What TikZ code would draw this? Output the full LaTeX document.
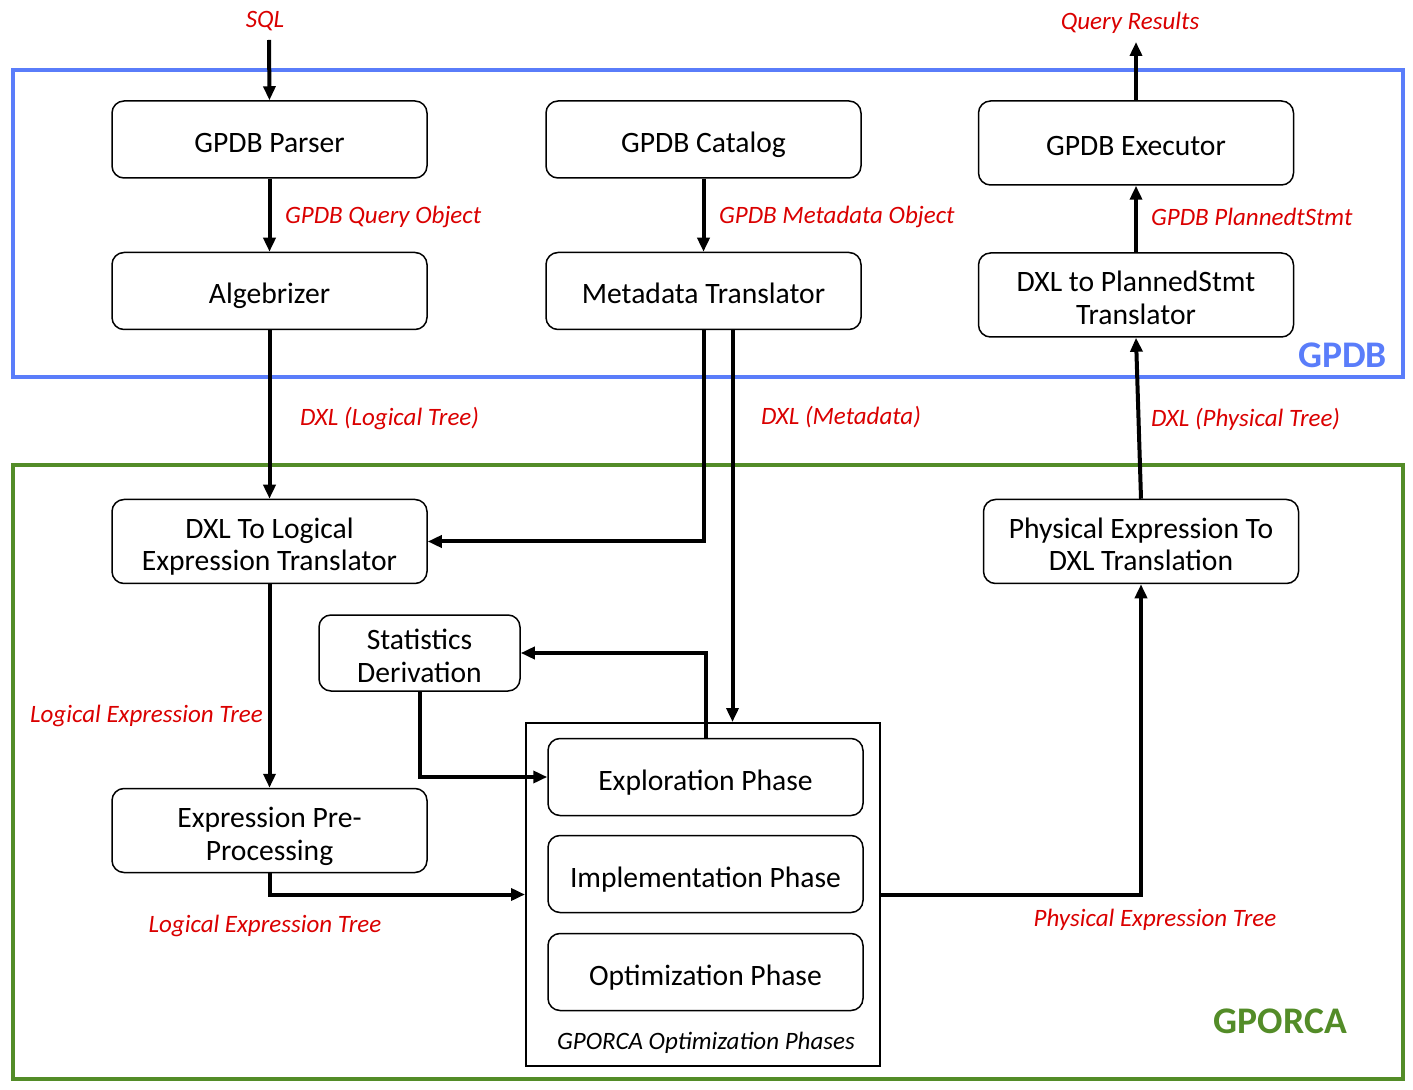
\documentclass[tikz,border=0pt]{standalone}
\usepackage{fontspec}
\setmainfont{Carlito}
\usetikzlibrary{
  positioning,
  arrows.meta,
  calc
}
\definecolor{gpdbblue}{RGB}{90,125,250}
\definecolor{orcagreen}{RGB}{83,140,40}
\definecolor{labelred}{RGB}{218,0,0}

\begin{document}
\begin{tikzpicture}[
      x=0.5pt, y=-0.5pt,
      box/.style={
        rectangle,
        rounded corners=6pt,
        draw=black,
        line width=0.75pt,
        minimum width=157.5pt,
        minimum height=38.5pt,
        inner sep=0pt,
        align=center,
        text height=13pt,
        text depth=0pt,
        font=\fontsize{14.8}{16.5}\selectfont
      },
      tallbox/.style={
        box,
        minimum height=42pt
      },
      twoline/.style={
        text height=29.5pt
      },
      frame/.style={
        line width=2pt
      },
      framelabel/.style={
        anchor=east,
        font=\fontsize{18.8}{22}\selectfont\bfseries
      },
      lbl/.style={
        text=labelred,
        font=\fontsize{12.5}{14}\selectfont\itshape
      },
      flow/.style={
        line width=2pt,
        -{Triangle[length=7pt,width=6pt]}
      }
    ]

    \useasboundingbox (0,0) rectangle (1413,1090);

    % Frames
    \draw[frame,gpdbblue] (13,70) rectangle (1403,377);
    \node[framelabel,text=gpdbblue] (gpdblabel) at (1394,355) {GPDB};
    \draw[frame,orcagreen] (13,465) rectangle (1403,1079);
    \node[framelabel,text=orcagreen] (orcalabel) at (1354,1021) {GPORCA};

    % GPDB side
    \node[box] (parser) at (269.5,139.5) {GPDB Parser};
    \node[box] (algebrizer) at (269.5,291) {Algebrizer};
    \node[box] (catalog) at (703.5,139.5) {GPDB Catalog};
    \node[box] (mdtrans) at (703.5,291) {Metadata Translator};
    \node[tallbox] (executor) at (1136,143) {GPDB Executor};
    \node[tallbox,twoline] (planned) at (1136,295) {DXL to PlannedStmt\\Translator};

    % GPORCA side
    \node[tallbox,twoline] (dxl2log) at (269.5,541.5) {DXL To Logical\\Expression Translator};
    \node[tallbox,twoline] (phys2dxl) at (1141,541.5) {Physical Expression To\\DXL Translation};
    \node[box,twoline, minimum width=100.5pt, minimum height=38pt] (stats) at (419.5,653)
      {Statistics\\Derivation};
    \node[tallbox,twoline] (prepro) at (269.5,830.5) {Expression Pre-\\Processing};

    % Optimization phases
    \node[draw, line width=1pt, minimum width=177pt, minimum height=171.5pt,
          inner sep=0pt] (phases) at (703,894.5) {};
    \node[box] (explore) at (705.5,777) {Exploration Phase};
    \node[box] (impl) at (705.5,874) {Implementation Phase};
    \node[box] (optim) at (705.5,972) {Optimization Phase};
    \node[font=\fontsize{12.5}{14}\selectfont\itshape] (phaseslabel) at (706,1043)
      {GPORCA Optimization Phases};

    % Inputs/Outputs
    \node[lbl] (sql) at (265,21) {SQL};
    \coordinate (sqlin) at (269,40);
    \draw[flow] (sqlin) -- (parser.north);
    \node[lbl] (results) at (1130,23) {Query Results};
    \coordinate (qout) at (1136,42);
    \draw[flow] (executor.north) -- (qout);

    % Routing in GPDB
    \draw[flow] (parser) -- (algebrizer);
    \node[lbl,anchor=west] at (278,217) {GPDB Query Object};
    \draw[flow] (catalog) -- (mdtrans);
    \node[lbl,anchor=west] at (712,217) {GPDB Metadata Object};
    \draw[flow] (planned) -- (executor);
    \node[lbl,anchor=west] at (1144,217) {GPDB PlannedtStmt};

    % Routing between GPDB and GPORCA
    \draw[flow] (algebrizer) -- (dxl2log);
    \node[lbl,anchor=west] at (293,419) {DXL (Logical Tree)};
    \draw[flow] (mdtrans.south) |- (dxl2log.east);
    \coordinate (mdout) at ([xshift=14.5pt]mdtrans.south);
    \draw[flow] (mdout) -- (mdout |- phases.north);
    \node[lbl,anchor=west] at (754,417) {DXL (Metadata)};
    \draw[flow] (phys2dxl.north) -- (planned.south);
    \node[lbl,anchor=west] at (1144,419) {DXL (Physical Tree)};

    % Routing in GPORCA
    \draw[flow] (dxl2log) -- (prepro);
    \node[lbl,anchor=east] at (270,716) {Logical Expression Tree};
    \draw[flow] (explore.north) |- (stats.east);
    \draw[flow] (stats.south) |- (explore.west);
    \draw[flow] (prepro.south) |- (phases.west);
    \node[lbl] at (265,926) {Logical Expression Tree};
    \draw[flow] (phases.east) -| (phys2dxl.south);
    \node[lbl] at (1155,920) {Physical Expression Tree};

    \end{tikzpicture}
\end{document}
